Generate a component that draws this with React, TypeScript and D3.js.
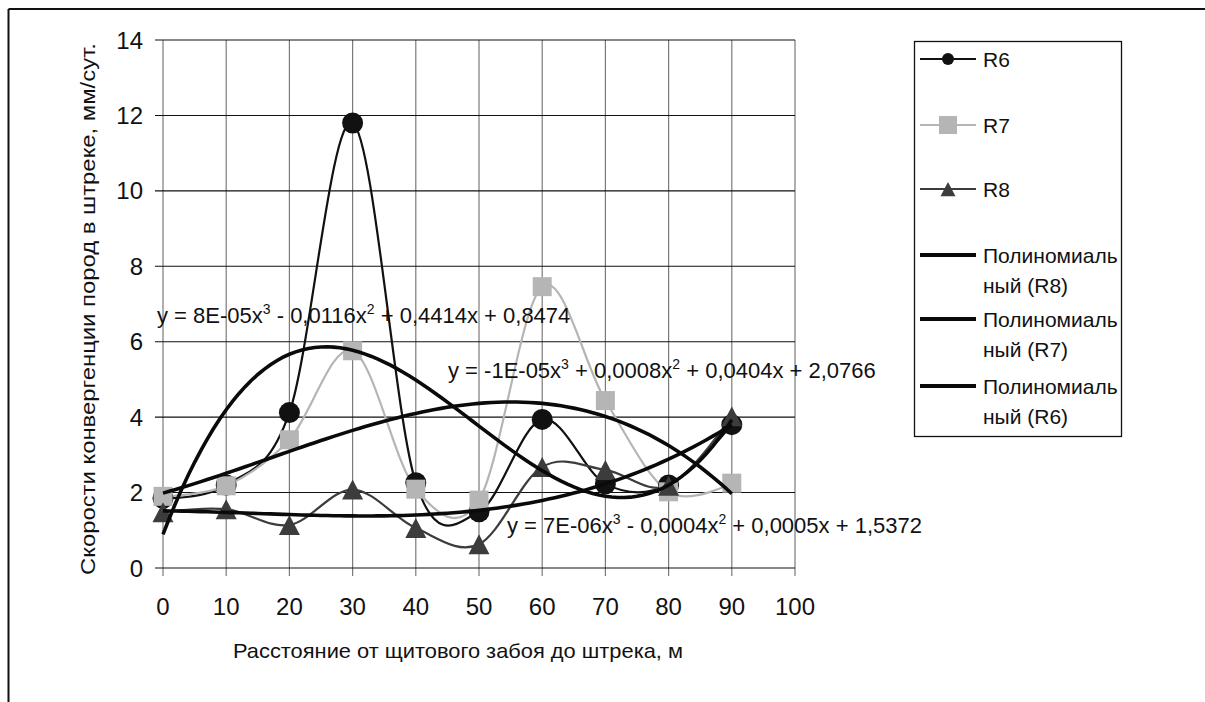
import React from "react";
import * as d3 from "d3";

// ---- data ----
const xValues = [0, 10, 20, 30, 40, 50, 60, 70, 80, 90];
const r6Values = [1.85, 2.2, 4.12, 11.8, 2.26, 1.49, 3.94, 2.23, 2.2, 3.8];
const r7Values = [1.9, 2.18, 3.4, 5.76, 2.09, 1.8, 7.46, 4.44, 2.02, 2.25];
const r8Values = [1.48, 1.56, 1.14, 2.08, 1.06, 0.63, 2.68, 2.6, 2.18, 4.02];
const seriesNames = ["R6", "R7", "R8"];
const xTicks = [0, 10, 20, 30, 40, 50, 60, 70, 80, 90, 100];
const yTicks = [0, 2, 4, 6, 8, 10, 12, 14];
const trendLegend = [
  ["Полиномиаль", "ный (R8)"],
  ["Полиномиаль", "ный (R7)"],
  ["Полиномиаль", "ный (R6)"],
];
// equation parts: [text, superscript]
const eqR6 = [["y = 8E-05x", "3"], [" - 0,0116x", "2"], [" + 0,4414x + 0,8474", ""]];
const eqR7 = [["y = -1E-05x", "3"], [" + 0,0008x", "2"], [" + 0,0404x + 2,0766", ""]];
const eqR8 = [["y = 7E-06x", "3"], [" - 0,0004x", "2"], [" + 0,0005x + 1,5372", ""]];
const xTitle = "Расстояние от щитового забоя до штрека, м";
const yTitle = "Скорости конвергенции пород в штреке, мм/сут.";

// least-squares polynomial fit (trendline, as in the chart)
function polyfit(xs: number[], ys: number[], deg: number): number[] {
  const n = deg + 1;
  const A: number[][] = [];
  for (let i = 0; i < n; i++) {
    const row: number[] = [];
    for (let j = 0; j < n; j++) row.push(d3.sum(xs, (x) => Math.pow(x, i + j)));
    row.push(d3.sum(xs.map((x, k) => Math.pow(x, i) * ys[k])));
    A.push(row);
  }
  for (let c = 0; c < n; c++) {
    let p = c;
    for (let r = c + 1; r < n; r++) if (Math.abs(A[r][c]) > Math.abs(A[p][c])) p = r;
    [A[c], A[p]] = [A[p], A[c]];
    for (let r = 0; r < n; r++) {
      if (r === c) continue;
      const f = A[r][c] / A[c][c];
      for (let k = c; k <= n; k++) A[r][k] -= f * A[c][k];
    }
  }
  return A.map((row, i) => row[n] / row[i]);
}

const FONT = "'Liberation Sans', Arial, sans-serif";

export default function App() {
  const W = 1205,
    H = 702;
  const x = d3.scaleLinear().domain([0, 100]).range([163, 795]);
  const y = d3.scaleLinear().domain([0, 14]).range([568, 40]);

  const smooth = d3
    .line<[number, number]>()
    .x((d) => x(d[0]))
    .y((d) => y(d[1]))
    .curve(d3.curveCatmullRom.alpha(0));
  const straight = d3
    .line<[number, number]>()
    .x((d) => x(d[0]))
    .y((d) => y(d[1]));

  const series = [
    { name: seriesNames[0], vals: r6Values, color: "#111111", marker: "circle" },
    { name: seriesNames[1], vals: r7Values, color: "#b5b5b5", marker: "square" },
    { name: seriesNames[2], vals: r8Values, color: "#3c3c3c", marker: "triangle" },
  ];

  const trendPts = (vals: number[]) => {
    const c = polyfit(xValues, vals, 3);
    const pts: [number, number][] = [];
    for (let t = 0; t <= 90; t += 1) pts.push([t, c[0] + c[1] * t + c[2] * t * t + c[3] * t * t * t]);
    return pts;
  };

  const marker = (kind: string, cx: number, cy: number, s: number, color: string, key: any) => {
    if (kind === "circle") return <circle key={key} cx={cx} cy={cy} r={s / 2} fill={color} />;
    if (kind === "square")
      return <rect key={key} x={cx - s / 2} y={cy - s / 2} width={s} height={s} fill={color} />;
    const h = s * 0.95;
    return (
      <path
        key={key}
        d={`M${cx},${cy - h / 2} L${cx + s / 2},${cy + h / 2} L${cx - s / 2},${cy + h / 2} Z`}
        fill={color}
      />
    );
  };

  const SUP = 9;
  const eqText = (parts: string[][], px: number, py: number) => (
    <text x={px} y={py} fontSize={22} fontFamily={FONT} fill="#111">
      {parts.map((p, i) => {
        const prevSup = i > 0 && parts[i - 1][1] !== "";
        return (
          <React.Fragment key={i}>
            <tspan dy={prevSup ? SUP : 0}>{p[0]}</tspan>
            {p[1] ? (
              <tspan fontSize={14} dy={-SUP}>
                {p[1]}
              </tspan>
            ) : null}
          </React.Fragment>
        );
      })}
    </text>
  );

  const legendY = [59, 125, 189];
  const trendLegendY = [255, 319, 386];

  return (
    <svg
      width={W}
      height={H}
      style={{ position: "absolute", left: 0, top: 0, background: "#fff" }}
      fontFamily={FONT}
    >
      <rect x={0} y={0} width={W} height={H} fill="#fff" />
      {/* outer frame */}
      <line x1={8.5} y1={9} x2={W} y2={9} stroke="#111" strokeWidth={2} />
      <line x1={8.5} y1={9} x2={8.5} y2={H} stroke="#111" strokeWidth={2} />

      {/* vertical gridlines */}
      {xTicks.map((t) => (
        <line key={"vx" + t} x1={x(t)} x2={x(t)} y1={y(14)} y2={576} stroke="#7a7a7a" strokeWidth={1.2} />
      ))}
      {/* horizontal gridlines */}
      {yTicks.map((t) => (
        <line key={"hy" + t} x1={155} x2={x(100)} y1={y(t)} y2={y(t)} stroke="#111" strokeWidth={1.1} />
      ))}

      {/* tick labels */}
      {yTicks.map((t) => (
        <text key={"yl" + t} x={143} y={y(t)} dy="0.36em" textAnchor="end" fontSize={24} fill="#111">
          {t}
        </text>
      ))}
      {xTicks.map((t) => (
        <text key={"xl" + t} x={x(t)} y={615} textAnchor="middle" fontSize={24} fill="#111">
          {t}
        </text>
      ))}

      {/* axis titles */}
      <text x={233} y={658} fontSize={21} fill="#111" textLength={450} lengthAdjust="spacingAndGlyphs">
        {xTitle}
      </text>
      <text
        transform={`translate(95,${575}) rotate(-90)`}
        x={0}
        y={0}
        fontSize={21}
        fill="#111"
        textLength={532}
        lengthAdjust="spacingAndGlyphs"
      >
        {yTitle}
      </text>

      {/* series lines */}
      {series.map((s) => (
        <path
          key={"l" + s.name}
          d={smooth(xValues.map((v, i) => [v, s.vals[i]]) as [number, number][]) || ""}
          fill="none"
          stroke={s.color}
          strokeWidth={2.2}
        />
      ))}
      {/* markers */}
      {series.map((s) =>
        xValues.map((v, i) =>
          marker(s.marker, x(v), y(s.vals[i]), s.marker === "circle" ? 21 : s.marker === "square" ? 19 : 21, s.color, s.name + i)
        )
      )}

      {/* trendlines */}
      {[r8Values, r7Values, r6Values].map((vals, i) => (
        <path key={"t" + i} d={straight(trendPts(vals)) || ""} fill="none" stroke="#0a0a0a" strokeWidth={3.6} />
      ))}

      {/* equations */}
      {eqText(eqR6, 157, 323)}
      {eqText(eqR7, 448, 378)}
      {eqText(eqR8, 507, 533)}

      {/* legend */}
      <rect x={914.5} y={41.5} width={207} height={395} fill="#fff" stroke="#111" strokeWidth={1.3} />
      {series.map((s, i) => (
        <g key={"lg" + s.name}>
          <line x1={920} x2={976} y1={legendY[i]} y2={legendY[i]} stroke={s.color} strokeWidth={2.2} />
          {marker(s.marker, 948, legendY[i], s.marker === "circle" ? 12 : s.marker === "square" ? 18 : 15, s.color, "m" + i)}
          <text x={983} y={legendY[i]} dy="0.36em" fontSize={21} fill="#111">
            {s.name}
          </text>
        </g>
      ))}
      {trendLegend.map((lines, i) => (
        <g key={"tl" + i}>
          <line x1={920} x2={976} y1={trendLegendY[i]} y2={trendLegendY[i]} stroke="#0a0a0a" strokeWidth={4} />
          <text x={983} y={trendLegendY[i]} dy="0.36em" fontSize={21} fill="#111">
            {lines[0]}
          </text>
          <text x={983} y={trendLegendY[i] + 30} dy="0.36em" fontSize={21} fill="#111">
            {lines[1]}
          </text>
        </g>
      ))}
    </svg>
  );
}
